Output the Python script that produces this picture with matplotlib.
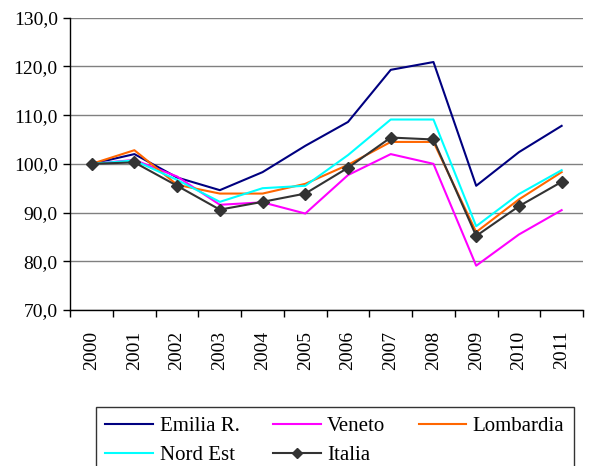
import matplotlib
matplotlib.use("Agg")
import matplotlib.pyplot as plt
from matplotlib.ticker import FuncFormatter, FixedLocator

years = ["2000", "2001", "2002", "2003", "2004", "2005", "2006", "2007", "2008", "2009", "2010", "2011"]
emilia = [100.0, 102.0, 97.2, 94.6, 98.3, 103.7, 108.6, 119.3, 120.9, 95.5, 102.4, 107.8]
veneto = [100.0, 100.8, 97.4, 91.6, 92.1, 89.8, 97.7, 102.0, 100.0, 79.1, 85.5, 90.5]
lombardia = [100.0, 102.8, 95.7, 93.9, 93.9, 95.9, 99.8, 104.5, 104.5, 86.0, 92.7, 98.3]
nordest = [100.0, 100.7, 96.7, 92.2, 95.0, 95.5, 101.8, 109.1, 109.1, 87.2, 93.8, 98.7]
italia = [100.0, 100.3, 95.5, 90.6, 92.2, 93.9, 99.2, 105.4, 105.0, 85.2, 91.3, 96.3]

plt.rcParams['font.family'] = ['Liberation Serif', 'DejaVu Serif']

fig = plt.figure(figsize=(5.93, 4.66), dpi=100)
ax = fig.add_axes([70.3 / 593, 1 - 310 / 466, (583 - 70.3) / 593, (310 - 17.7) / 466])

x = list(range(len(years)))
l1, = ax.plot(x, emilia, color='#000080', lw=1.5, label='Emilia R.')
l2, = ax.plot(x, veneto, color='#FF00FF', lw=1.5, label='Veneto')
l3, = ax.plot(x, lombardia, color='#FF6600', lw=1.5, label='Lombardia')
l4, = ax.plot(x, nordest, color='#00FFFF', lw=1.5, label='Nord Est')
l5, = ax.plot(x, italia, color='#333333', lw=1.5, marker='D', markersize=6, label='Italia')

ax.set_xlim(-0.5, len(years) - 0.5)
ax.set_ylim(70, 130)
ax.set_yticks(range(70, 131, 10))
ax.yaxis.set_major_formatter(FuncFormatter(lambda v, p: f"{v:.1f}".replace('.', ',')))
ax.yaxis.grid(True, color='#808080', lw=1)
ax.set_axisbelow(True)

ax.set_xticks(x)
ax.set_xticklabels(years, rotation=90)
ax.xaxis.set_minor_locator(FixedLocator([i - 0.5 for i in range(len(years) + 1)]))
ax.tick_params(axis='x', which='major', length=0, pad=15, labelsize=14)
ax.tick_params(axis='x', which='minor', length=5, width=1, direction='out', color='black')
ax.tick_params(axis='y', length=5, width=1, direction='out', labelsize=14, pad=4)

for s in ['top', 'right']:
    ax.spines[s].set_visible(False)
for s in ['left', 'bottom']:
    ax.spines[s].set_color('black')
    ax.spines[s].set_linewidth(1)

# column-major fill -> order so rows read: Emilia, Veneto, Lombardia / Nord Est, Italia
leg = fig.legend(handles=[l1, l4, l2, l5, l3], loc='upper left',
                 bbox_to_anchor=(96 / 593, 1 - 407 / 466), ncol=3, frameon=True,
                 fancybox=False, edgecolor='black', fontsize=15, borderaxespad=0,
                 handlelength=2.3, handletextpad=0.3, columnspacing=1.6,
                 labelspacing=0.45, borderpad=0.45, markerscale=0.9)
leg.get_frame().set_linewidth(1)

fig.savefig('out.png', dpi=100)
